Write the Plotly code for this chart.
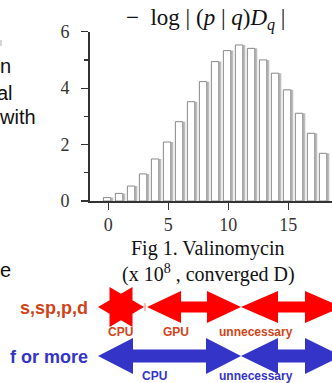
import plotly.graph_objects as go
import math

W, H = 332, 383

# ---- data ----
bin_centers = list(range(0, 19))
bin_heights = [0.12, 0.27, 0.53, 0.96, 1.49, 2.09, 2.81, 3.52, 4.23, 4.94,
               5.33, 5.53, 5.41, 5.00, 4.53, 3.94, 3.11, 2.40, 1.69]
y_tickvals = [0, 2, 4, 6]
x_tickvals = [0, 5, 10, 15]

row_labels = ["s,sp,p,d", "f or more"]
red_segments = ["CPU", "GPU", "unnecessary"]
blue_segments = ["CPU", "unnecessary"]

RED = "#ff0000"
RED_TXT = "#d04418"
BLUE = "#3434c8"
BLUE_TXT = "#3434c8"
SERIF = "Liberation Serif, Times New Roman, serif"
SANS = "Liberation Sans, Arial, sans-serif"


def px(x):
    return x / W


def py(y):
    return 1 - y / H


def path_from(points):
    s = "M " + " L ".join(f"{px(x):.5f},{py(y):.5f}" for x, y in points) + " Z"
    return s


def double_arrow(xa, xb, yc, hl, hh, sh):
    pts = [(xa, yc), (xa + hl, yc - hh), (xa + hl, yc - sh), (xb - hl, yc - sh),
           (xb - hl, yc - hh), (xb, yc), (xb - hl, yc + hh), (xb - hl, yc + sh),
           (xa + hl, yc + sh), (xa + hl, yc + hh)]
    return path_from(pts)


def hexagram(cx, cy, R):
    r = R / math.sqrt(3)
    pts = []
    for k in range(12):
        ang = math.radians(k * 30)
        rad = R if k % 2 == 0 else r
        pts.append((cx + rad * math.cos(ang), cy - rad * math.sin(ang)))
    return path_from(pts)


fig = go.Figure()
# shadow bars (gray right edge)
fig.add_trace(go.Bar(x=bin_centers, y=bin_heights, width=0.83, offset=-0.415,
                     marker=dict(color="#bdbdbd", line=dict(width=0)),
                     hoverinfo="skip", showlegend=False))
# white bars with thin outline
fig.add_trace(go.Bar(x=bin_centers, y=bin_heights, width=0.62, offset=-0.415,
                     marker=dict(color="white", line=dict(color="#8a8a8a", width=1)),
                     showlegend=False))

x0p = 89.5 / W
fig.update_layout(
    width=W, height=H,
    margin=dict(l=0, r=0, t=0, b=0, autoexpand=False),
    paper_bgcolor="white", plot_bgcolor="white",
    barmode="overlay",
    xaxis=dict(domain=[x0p, 1], range=[-1.57, 18.64], tickvals=x_tickvals,
               ticks="outside", ticklen=7, tickwidth=1.2, tickcolor="#333",
               showline=True, linecolor="#333", linewidth=1.5, showgrid=False,
               zeroline=False, tickfont=dict(family=SERIF, size=18, color="#333"),
               automargin=False, fixedrange=True),
    yaxis=dict(domain=[py(201), py(31.7)], range=[0, 6], tickvals=y_tickvals,
               ticks="outside", ticklen=7, tickwidth=1.2, tickcolor="#333",
               minor=dict(tickvals=[1, 3, 5], ticks="outside", ticklen=4,
                          tickcolor="#333", showgrid=False),
               showline=True, linecolor="#333", linewidth=1.5, showgrid=False,
               zeroline=False, ticklabelstandoff=8,
               tickfont=dict(family=SERIF, size=18, color="#333"),
               automargin=False, fixedrange=True),
)

ann = []
# title formula
ann.append(dict(x=px(205), y=py(19), text="−  log | (<i>p</i> | <i>q</i>)<i>D</i><sub><i>q</i></sub> |",
                font=dict(family=SERIF, size=23, color="#111")))
# caption
ann.append(dict(x=px(208), y=py(248), text="Fig 1. Valinomycin",
                font=dict(family=SERIF, size=20, color="#111")))
ann.append(dict(x=px(208), y=py(273), text="(x 10<sup>8</sup> , converged D)",
                font=dict(family=SERIF, size=20, color="#111")))
# cut-off slide text on the left
for txt, xr, yc in [("n", 12.5, 66), ("al", 14.5, 93), ("with", 37.5, 117), ("e", 12.5, 270)]:
    ann.append(dict(x=px(xr), y=py(yc), text=txt, xanchor="right",
                    font=dict(family=SANS, size=20, color="#111")))
# row labels
ann.append(dict(x=px(90), y=py(308), text=f"<b>{row_labels[0]}</b>", xanchor="right",
                font=dict(family=SANS, size=18, color=RED_TXT)))
ann.append(dict(x=px(90), y=py(357), text=f"<b>{row_labels[1]}</b>", xanchor="right",
                font=dict(family=SANS, size=18, color=BLUE_TXT)))
# segment labels
for txt, xc in zip(red_segments, [120, 176, 256]):
    ann.append(dict(x=px(xc), y=py(332), text=f"<b>{txt}</b>",
                    font=dict(family=SANS, size=12, color=RED_TXT)))
for txt, xc in zip(blue_segments, [154, 256]):
    ann.append(dict(x=px(xc), y=py(376), text=f"<b>{txt}</b>",
                    font=dict(family=SANS, size=12, color=BLUE_TXT)))

for a in ann:
    a.setdefault("xanchor", "center")
    a.update(xref="paper", yref="paper", yanchor="middle", showarrow=False)
fig.update_layout(annotations=ann)

shapes = []
# red row: CPU star, GPU arrow, unnecessary arrow
shapes.append(dict(type="path", path=hexagram(121, 307, 23), fillcolor=RED, line=dict(width=0)))
shapes.append(dict(type="line", x0=px(145), x1=px(145), y0=py(303), y1=py(311),
                   line=dict(color="#ff7070", width=1)))
shapes.append(dict(type="path", path=double_arrow(147, 241, 307, 34, 16, 5.5), fillcolor=RED, line=dict(width=0)))
shapes.append(dict(type="path", path=double_arrow(241, 342, 307, 37, 16, 5.5), fillcolor=RED, line=dict(width=0)))
# blue row: CPU arrow, unnecessary arrow
shapes.append(dict(type="path", path=double_arrow(98, 241, 356, 35, 18, 6.5), fillcolor=BLUE, line=dict(width=0)))
shapes.append(dict(type="path", path=double_arrow(241, 342, 356, 37, 18, 6.5), fillcolor=BLUE, line=dict(width=0)))
# faint gray fragment at top-left
shapes.append(dict(type="rect", x0=px(0), x1=px(2), y0=py(46), y1=py(40),
                   fillcolor="#d6d6d6", line=dict(width=0)))
for s in shapes:
    s.update(xref="paper", yref="paper", layer="above")
fig.update_layout(shapes=shapes)

fig.write_html("out.html",
               config={"displayModeBar": False, "staticPlot": True},
               post_script="document.body.style.margin='0';document.body.style.padding='0';")
